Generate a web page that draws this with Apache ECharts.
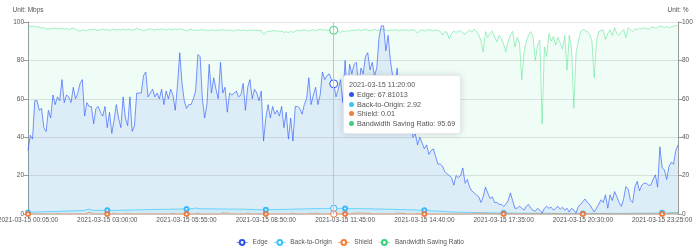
<!DOCTYPE html>
<html><head><meta charset="utf-8">
<script src="https://cdn.jsdelivr.net/npm/echarts@6/dist/echarts.min.js"></script>
<style>html,body{margin:0;padding:0;background:#fff}#c{width:700px;height:246px}</style>
</head><body><div id="c"></div>
<script>
const startTime = [2021, 3, 15, 0, 5, 0];
const stepMinutes = 5;
const seriesNames = ['Edge', 'Back-to-Origin', 'Shield', 'Bandwidth Saving Ratio'];
const yTicks = { min: 0, max: 100, interval: 20 };
const hoverIndex = 135;

const edge = [
33,41,39,59,59,54,55,45,43,54,
50,62,57,61,59,70,58,62,61,58,
66,60,63,68,70,51,58,56,56,47,
55,56,53,51,56,45,53,42,49,57,
50,45,61,50,46,61,43,46,63,63,
63,72,74,61,63,65,61,63,60,65,
57,64,60,65,62,54,67,84,68,59,
55,57,57,60,64,83,82,60,50,57,
78,63,71,65,60,79,63,66,53,63,
62,63,64,61,62,68,54,66,70,60,
65,63,59,64,38,50,57,50,56,52,
54,51,56,45,53,39,50,38,56,56,
55,52,57,60,71,57,62,66,57,62,
74,70,72,73,70,67.81013,61,65,70,58,
80,62,78,73,78,79,66,76,73,82,
84,75,79,72,76,92,98,98,85,93,
80,72,67,76,62,58,60,48,56,47,
40,42,36,40,37,34,36,31,33,34,
30,26,26,25,22,21,20,19,15,20,
19,20,24,16,18,14,12,11,10,9,
6,9,14,11,8,9,6,6,5,5,
4,5,7,11,7,3,3,4,3,2,
4,5,3,2,1.4,3,2,0.4,3,4,
3,3.5,2,3,4,2.5,3.5,2,3,1,
3,2,0.5,4,5,6.5,7.8,6,5,3,
1,3,5,7.4,6,10,3,10,7,11.7,
9,6,4,8,14.3,13,7,6,14.3,17,
12,15,16,16,15,15,18,20.4,14,35,
24,23,18,24.7,27,26,33,36
];

const backToOrigin = [
0.8,0.9,0.9,1.0,1.0,1.1,1.1,1.1,1.2,1.2,
1.3,1.3,1.3,1.4,1.4,1.5,1.5,1.5,1.6,1.6,
1.6,1.7,1.7,1.8,1.8,1.9,2.2,2.6,2.1,1.9,
1.9,1.9,1.9,1.8,1.9,1.9,1.9,1.9,1.9,1.9,
1.9,2.0,2.0,2.0,2.0,2.1,2.1,2.1,2.2,2.2,
2.2,2.2,2.3,2.3,2.3,2.3,2.4,2.4,2.4,2.4,
2.4,2.5,2.5,2.5,2.5,2.5,2.6,2.6,2.6,2.6,
2.6,2.6,2.7,2.9,3.1,2.9,2.7,2.7,2.7,2.7,
2.7,2.7,2.7,2.6,2.6,2.6,2.6,2.6,2.6,2.5,
2.6,2.6,2.5,2.5,2.5,2.5,2.5,2.4,2.4,2.4,
2.3,2.3,2.3,2.2,2.2,2.2,2.3,2.3,2.3,2.3,
2.3,2.4,2.4,2.4,2.4,2.5,2.5,2.5,2.6,2.6,
2.6,2.6,2.7,2.7,2.7,2.7,2.8,2.8,2.8,2.8,
2.9,2.9,2.9,2.9,2.9,2.92,2.9,2.9,2.9,2.9,
2.9,2.9,2.8,2.8,2.8,2.8,2.8,2.8,2.7,2.7,
2.7,2.7,2.7,2.6,2.6,2.6,2.6,2.5,2.5,2.5,
2.5,2.4,2.4,2.4,2.3,2.3,2.3,2.2,2.2,2.2,
2.1,2.1,2.0,2.0,1.9,1.9,1.8,1.8,1.7,1.6,
1.6,1.5,1.4,1.4,1.3,1.2,1.1,1.1,1.0,1.0,
0.9,0.9,0.9,0.8,0.8,0.8,0.8,0.7,0.7,0.7,
0.7,0.6,0.6,0.6,0.6,0.6,0.6,0.5,0.5,0.5,
0.5,0.5,0.5,0.5,0.5,0.4,0.4,0.4,0.4,0.4,
0.4,0.4,0.4,0.4,0.4,0.4,0.3,0.4,0.4,0.4,
0.4,0.3,0.3,0.3,0.3,0.3,0.3,0.3,0.3,0.3,
0.3,0.3,0.3,0.3,0.3,0.3,0.3,0.3,0.3,0.3,
0.3,0.3,0.3,0.3,0.3,0.3,0.3,0.4,0.3,0.3,
0.3,0.3,0.3,0.3,0.4,0.3,0.3,0.3,0.4,0.4,
0.4,0.4,0.4,0.4,0.4,0.4,0.5,0.5,0.5,0.6,
0.6,0.6,0.6,0.6,0.7,0.7,0.7,0.8
];

const shield = [
0.05,0.05,0.05,0.05,0.05,0.05,0.05,0.05,0.05,0.05,
0.05,0.05,0.05,0.4,0.05,0.05,0.05,0.05,0.05,0.05,
0.05,0.05,0.05,0.05,0.05,0.05,0.4,0.9,0.5,0.05,
0.05,0.05,0.05,0.05,0.05,0.05,0.05,0.05,0.5,0.05,
0.05,0.05,0.05,0.05,0.4,0.05,0.05,0.05,0.05,0.05,
0.05,0.05,0.05,0.05,0.05,0.05,0.05,0.05,0.05,0.05,
0.05,0.05,0.05,0.05,0.3,0.05,0.05,0.05,0.05,0.05,
0.05,0.05,0.05,0.05,0.05,0.5,0.05,0.05,0.05,0.05,
0.05,0.05,0.05,0.05,0.05,0.05,0.6,0.3,0.7,0.05,
0.05,0.05,0.05,0.05,0.05,0.05,0.05,0.6,0.05,0.05,
0.05,0.05,0.05,0.05,0.05,0.05,0.05,0.05,0.05,0.05,
0.05,0.05,0.05,0.05,0.05,0.05,0.05,0.5,0.05,0.05,
0.05,0.05,0.05,0.05,0.05,0.4,0.05,0.5,0.3,0.05,
0.05,0.05,0.05,0.05,0.05,0.01,0.05,0.05,0.05,0.05,
0.05,0.05,0.05,0.05,0.5,0.3,0.6,0.4,0.5,0.3,
0.5,0.3,0.05,0.05,0.05,0.05,0.05,0.05,0.05,0.05,
0.05,0.05,0.05,0.4,0.5,0.3,0.4,0.05,0.05,0.05,
0.05,0.05,0.4,0.05,0.05,0.05,0.05,0.05,0.05,0.05,
0.05,0.05,0.05,0.05,0.05,0.05,0.05,0.05,0.05,0.05,
0.05,0.05,0.05,0.05,0.05,0.05,0.05,0.4,0.3,0.5,
0.3,0.4,0.5,0.3,0.05,0.05,0.05,0.05,0.05,0.05,
0.05,0.05,0.05,0.05,0.05,0.05,0.05,0.05,0.05,0.05,
0.05,0.05,0.05,0.05,0.05,0.4,0.05,0.05,0.05,0.05,
0.05,0.05,0.3,0.05,0.05,0.05,0.05,0.05,0.05,0.05,
0.05,0.05,0.05,0.05,0.05,0.05,0.05,0.05,0.05,0.05,
0.05,0.4,0.05,0.05,0.05,0.05,0.05,0.05,0.05,0.05,
0.05,0.05,0.05,0.05,0.05,0.05,0.05,0.05,0.05,0.05,
0.05,0.05,0.05,0.05,0.4,0.05,0.05,0.05,0.05,0.05,
0.05,0.05,0.05,0.05,0.4,0.5,0.3,0.4
];

const savingRatio = [
97.5,97.6,97.9,97.4,97.6,97.2,96.8,97.1,96.5,96.3,
96.7,96.4,96.9,96.6,96.3,96.8,96.2,96.6,96.0,96.5,
96.9,96.2,95.6,95.2,96.0,95.7,95.4,96.1,95.8,96.3,
95.9,95.5,96.0,96.4,95.8,96.2,95.6,95.9,96.3,95.7,
96.1,95.8,96.4,95.9,96.0,96.2,95.6,96.1,96.6,96.3,
96.0,95.5,95.8,96.2,96.5,96.1,95.7,96.3,96.0,96.4,
96.1,95.8,96.5,96.2,96.0,96.4,95.9,96.6,96.2,95.8,
95.3,95.9,96.2,95.6,96.0,95.5,95.8,96.1,95.6,95.9,
95.4,96.0,95.7,95.5,95.9,95.6,96.1,95.7,95.5,95.9,
95.6,95.3,95.8,96.0,95.5,95.8,95.6,95.4,95.9,95.7,
95.6,95.9,95.4,95.7,93.5,94.6,95.3,95.0,95.6,95.2,
95.5,94.9,95.3,94.6,95.0,94.4,95.2,94.5,95.4,95.7,
95.3,95.8,96.0,95.6,95.2,95.7,96.0,95.5,95.9,96.2,
95.8,96.1,95.6,95.9,96.2,95.69,95.3,95.0,94.6,95.4,
94.8,95.6,95.2,95.9,95.5,95.8,96.0,95.6,95.9,96.2,
95.7,95.4,95.9,96.1,95.5,95.8,96.0,96.3,95.7,95.4,
95.9,95.6,96.1,95.8,95.4,95.9,95.6,96.0,95.4,95.8,
96.0,95.5,94.2,95.6,95.9,95.3,95.8,96.1,95.7,95.4,
95.9,95.6,95.1,93.2,95.0,94.6,91.2,94.0,95.2,94.6,
95.1,95.5,94.3,93.6,95.0,95.8,94.8,96.1,95.2,93.5,
90.2,84.5,95.0,92.0,94.1,95.2,92.4,89.7,93.0,91.4,
88.5,84.5,90.0,93.2,95.1,87.0,92.0,89.5,70.0,84.0,
90.0,93.1,95.0,92.5,80.0,88.0,90.5,47.0,87.0,82.0,
94.0,90.0,92.5,88.0,92.0,89.0,86.0,93.0,75.0,93.0,
86.0,55.0,84.0,90.0,95.0,96.0,95.5,95.0,93.5,90.0,
71.0,90.0,95.0,95.5,96.0,91.0,94.0,96.0,93.0,97.0,
94.0,93.0,95.0,96.0,92.0,97.0,96.0,95.0,96.5,96.0,
96.8,96.3,97.0,96.6,96.2,97.0,97.3,96.8,97.2,98.0,
97.5,97.2,97.6,97.0,97.4,97.8,98.0,98.2
];

function pad(n) { return String(n).padStart(2, '0'); }
const categories = [];
(function () {
  const base = new Date(startTime[0], startTime[1] - 1, startTime[2], startTime[3], startTime[4], startTime[5]).getTime();
  for (let i = 0; i < edge.length; i++) {
    const d = new Date(base + i * stepMinutes * 60000);
    categories.push(d.getFullYear() + '-' + pad(d.getMonth() + 1) + '-' + pad(d.getDate()) + ' ' +
      pad(d.getHours()) + ':' + pad(d.getMinutes()) + ':' + pad(d.getSeconds()));
  }
})();

const font = '"Liberation Sans", Arial, sans-serif';
const txt = '#555';
const fs = 6.5;

const chart = echarts.init(document.getElementById('c'), null, { renderer: 'canvas' });
function lineSeries(name, data, axis, color, showSym, size, lineOp, areaOp, z) {
  return {
    name: name, type: 'line', data: data, yAxisIndex: axis, color: color,
    showSymbol: showSym, symbol: 'emptyCircle', symbolSize: size, z: z,
    itemStyle: { borderWidth: 1 },
    emphasis: { scale: 1.6, itemStyle: { borderWidth: 1 } },
    lineStyle: { width: 1, opacity: lineOp },
    areaStyle: { opacity: areaOp }
  };
}
const option = {
  animation: false,
  textStyle: { fontFamily: font },
  grid: { left: 28, right: 22, top: 22, bottom: 32, containLabel: false, outerBoundsMode: 'none' },
  tooltip: {
    trigger: 'axis',
    transitionDuration: 0,
    position: [343, 75],
    backgroundColor: '#fff',
    borderColor: '#e8e8e8',
    borderWidth: 1,
    padding: [4, 5],
    extraCssText: 'box-shadow:0 0 6px rgba(0,0,0,0.15);border-radius:3px;',
    textStyle: { fontSize: 7.2, color: txt, fontFamily: font },
    axisPointer: { type: 'line', lineStyle: { color: '#c4c4c4', width: 1, type: 'solid' } },
    formatter: function (params) {
      let s = '<div style="line-height:9.8px;font-size:7.2px;color:#555;font-family:Liberation Sans,Arial,sans-serif">' + params[0].axisValue;
      params.forEach(function (p) {
        s += '<br/><span style="display:inline-block;width:5px;height:5px;border-radius:50%;background:' + p.color +
          ';margin-right:3px;vertical-align:0px"></span>' + p.seriesName + ': ' + p.value;
      });
      return s + '</div>';
    }
  },
  legend: {
    data: seriesNames,
    top: 234,
    left: 'center',
    itemWidth: 11,
    itemHeight: 6,
    itemGap: 6,
    itemStyle: { borderWidth: 1 },
    lineStyle: { width: 1 },
    textStyle: { fontSize: fs, color: txt }
  },
  xAxis: {
    type: 'category',
    data: categories,
    boundaryGap: false,
    axisLine: { lineStyle: { color: '#ccc' } },
    axisTick: { show: true, interval: 34, length: 3, lineStyle: { color: '#ccc' } },
    axisLabel: { interval: 34, fontSize: fs, color: txt, margin: 3 },
    splitLine: { show: false }
  },
  yAxis: [
    {
      type: 'value', min: yTicks.min, max: yTicks.max, interval: yTicks.interval,
      name: 'Unit: Mbps', nameGap: 8, nameTextStyle: { fontSize: fs, color: txt },
      axisLine: { show: true, lineStyle: { color: '#999' } },
      axisTick: { show: true, length: 4, lineStyle: { color: '#999' } },
      axisLabel: { fontSize: fs, color: txt, margin: 4 },
      splitLine: { lineStyle: { color: '#e3e3e3' } }
    },
    {
      type: 'value', min: yTicks.min, max: yTicks.max, interval: yTicks.interval, position: 'right',
      name: 'Unit: %', nameGap: 8, nameTextStyle: { fontSize: fs, color: txt },
      axisLine: { show: true, lineStyle: { color: '#999' } },
      axisTick: { show: true, length: 4, lineStyle: { color: '#999' } },
      axisLabel: { fontSize: fs, color: txt, margin: 4 },
      splitLine: { show: false }
    }
  ],
  series: [
    lineSeries(seriesNames[0], edge, 0, '#2f54eb', false, 5, 0.65, 0.1, 4),
    lineSeries(seriesNames[1], backToOrigin, 0, '#3ec5f5', true, 4, 0.75, 0.1, 3),
    lineSeries(seriesNames[2], shield, 0, '#f4803c', true, 4, 0.75, 0.1, 3),
    lineSeries(seriesNames[3], savingRatio, 1, '#3ecf7c', false, 5, 0.5, 0.08, 1)
  ]
};
chart.setOption(option);
chart.dispatchAction({ type: 'showTip', seriesIndex: 0, dataIndex: hoverIndex });
</script>
</body></html>
